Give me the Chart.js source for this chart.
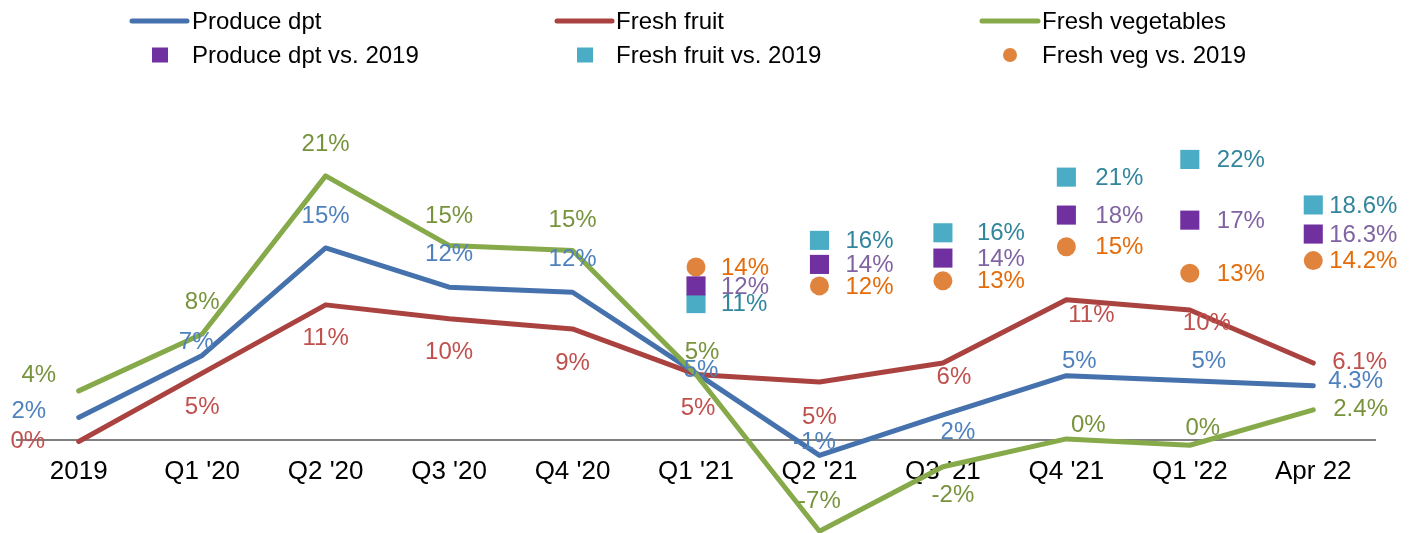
<!DOCTYPE html>
<html>
<head>
<meta charset="utf-8">
<script src="https://cdn.jsdelivr.net/npm/chart.js@4.4.1/dist/chart.umd.min.js"></script>
<style>
  html, body { margin: 0; padding: 0; background: #fff; }
  #wrap { width: 1411px; height: 533px; position: relative; }
</style>
</head>
<body>
<div id="wrap"><canvas id="chart"></canvas></div>
<script>
const categories = ['2019', "Q1 '20", "Q2 '20", "Q3 '20", "Q4 '20", "Q1 '21", "Q2 '21", "Q3 '21", "Q4 '21", "Q1 '22", 'Apr 22'];

// % change
const produceDpt = [1.8, 6.7, 15.2, 12.1, 11.7, 5.3, -1.2, 2.0, 5.1, 4.7, 4.3];
const freshFruit = [-0.1, 5.3, 10.7, 9.6, 8.8, 5.2, 4.6, 6.1, 11.1, 10.3, 6.1];
const freshVeg = [3.9, 8.4, 20.9, 15.4, 15.0, 5.2, -7.2, -2.1, 0.1, -0.4, 2.4];

// vs. 2019 markers (only from Q1 '21)
const produceVs2019 = [null, null, null, null, null, 12.2, 13.9, 14.4, 17.8, 17.4, 16.3];
const fruitVs2019 = [null, null, null, null, null, 10.8, 15.8, 16.4, 20.8, 22.2, 18.6];
const vegVs2019 = [null, null, null, null, null, 13.7, 12.2, 12.6, 15.3, 13.2, 14.2];

const FONT = '"Liberation Sans", Arial, sans-serif';

function fmt(v, i) {
  if (i === categories.length - 1) return v.toFixed(1) + '%';
  return `${Math.round(v) || 0}%`;
}

// label placement, offsets from each point (last point is left aligned)
const blueOffsets = [[-50,-6],[-6,-13],[0,-32],[0,-33],[0,-33],[5,-3],[-5,-13],[15,17],[13,-14],[19,-19],[15,-4]];
const redOffsets = [[-51,0],[0,34],[0,34],[0,34],[0,34],[2,34],[0,35],[11,14],[25,16],[17,13],[19,-1]];
const greenOffsets = [[-40,-16],[0,-32],[0,-31],[0,-29],[0,-30],[6,-22],[0,-30],[10,29],[22,-14],[13,-17],[20,0]];
const vsOffsetX = [0, 0, 0, 0, 0, 25, 26, 34, 29, 27, 16];

const valueLabels = {
  id: 'valueLabels',
  afterDatasetsDraw(chart) {
    const ctx = chart.ctx;
    ctx.save();
    ctx.font = '24px ' + FONT;
    ctx.textBaseline = 'middle';
    chart.data.datasets.forEach((ds, di) => {
      const meta = chart.getDatasetMeta(di);
      ds.data.forEach((v, i) => {
        if (v === null) return;
        const pt = meta.data[i];
        ctx.fillStyle = ds.labelColor;
        if (ds.offsets) {
          const [dx, dy] = ds.offsets[i];
          ctx.textAlign = i === categories.length - 1 ? 'left' : 'center';
          ctx.fillText(fmt(v, i), pt.x + dx, pt.y + dy);
        } else {
          ctx.textAlign = 'left';
          ctx.fillText(fmt(v, i), pt.x + vsOffsetX[i], pt.y + 1);
        }
      });
    });
    ctx.restore();
  }
};

const legendItems = [
  { kind: 'line', color: '#4571ac', x: 132, w: 55, tx: 192, row: 0, text: 'Produce dpt' },
  { kind: 'line', color: '#aa4340', x: 557, w: 55, tx: 616, row: 0, text: 'Fresh fruit' },
  { kind: 'line', color: '#86a94a', x: 982, w: 56, tx: 1042, row: 0, text: 'Fresh vegetables' },
  { kind: 'rect', color: '#7030a0', x: 160, tx: 192, row: 1, text: 'Produce dpt vs. 2019' },
  { kind: 'rect', color: '#4bacc6', x: 585, tx: 616, row: 1, text: 'Fresh fruit vs. 2019' },
  { kind: 'dot', color: '#e0843d', x: 1010, tx: 1042, row: 1, text: 'Fresh veg vs. 2019' }
];

const topLegend = {
  id: 'topLegend',
  afterDraw(chart) {
    const ctx = chart.ctx;
    ctx.save();
    ctx.font = '24px ' + FONT;
    ctx.textBaseline = 'alphabetic';
    ctx.textAlign = 'left';
    legendItems.forEach(it => {
      const cy = it.row === 0 ? 21 : 55;
      ctx.fillStyle = it.color;
      ctx.strokeStyle = it.color;
      if (it.kind === 'line') {
        ctx.lineWidth = 5;
        ctx.lineCap = 'round';
        ctx.beginPath();
        ctx.moveTo(it.x, cy);
        ctx.lineTo(it.x + it.w, cy);
        ctx.stroke();
      } else if (it.kind === 'rect') {
        ctx.fillRect(it.x - 8, cy - 7.5, 16, 15);
      } else {
        ctx.beginPath();
        ctx.arc(it.x, cy, 7, 0, Math.PI * 2);
        ctx.fill();
      }
      ctx.fillStyle = '#000';
      ctx.fillText(it.text, it.tx, it.row === 0 ? 29 : 63);
    });
    ctx.restore();
  }
};

function lineSet(label, data, color, labelColor, offsets) {
  return {
    label, data, offsets, labelColor,
    borderColor: color,
    backgroundColor: color,
    borderWidth: 5,
    pointRadius: 0,
    tension: 0,
    clip: false,
    borderCapStyle: 'round',
    borderJoinStyle: 'round'
  };
}

function markerSet(label, data, color, labelColor, style, radius) {
  return {
    label, data, labelColor,
    showLine: false,
    pointStyle: style,
    pointRadius: radius,
    pointBackgroundColor: color,
    pointBorderColor: color,
    pointBorderWidth: 0,
    clip: false
  };
}

new Chart(document.getElementById('chart'), {
  type: 'line',
  data: {
    labels: categories,
    datasets: [
      markerSet('Produce dpt vs. 2019', produceVs2019, '#7030a0', '#8064a2', 'rect', 13.5),
      markerSet('Fresh fruit vs. 2019', fruitVs2019, '#4bacc6', '#31859c', 'rect', 13.5),
      markerSet('Fresh veg vs. 2019', vegVs2019, '#e0843d', '#e46c0a', 'circle', 9.5),
      lineSet('Fresh vegetables', freshVeg, '#86a94a', '#77933c', greenOffsets),
      lineSet('Produce dpt', produceDpt, '#4571ac', '#4f81bd', blueOffsets),
      lineSet('Fresh fruit', freshFruit, '#aa4340', '#c0504d', redOffsets)
    ]
  },
  options: {
    responsive: true,
    maintainAspectRatio: false,
    animation: false,
    layout: { padding: { top: 112, bottom: 1, left: 17, right: 36 } },
    plugins: {
      legend: { display: false },
      tooltip: { enabled: false }
    },
    scales: {
      x: {
        position: { y: 0 },
        offset: true,
        grid: { display: false, drawTicks: false },
        border: { display: true, color: '#808080', width: 2 },
        ticks: {
          color: '#000',
          font: { family: FONT, size: 26 },
          padding: 16,
          maxRotation: 0,
          autoSkip: false
        }
      },
      y: {
        display: false,
        min: -6.27,
        max: 25.95
      }
    }
  },
  plugins: [valueLabels, topLegend]
});
</script>
</body>
</html>
